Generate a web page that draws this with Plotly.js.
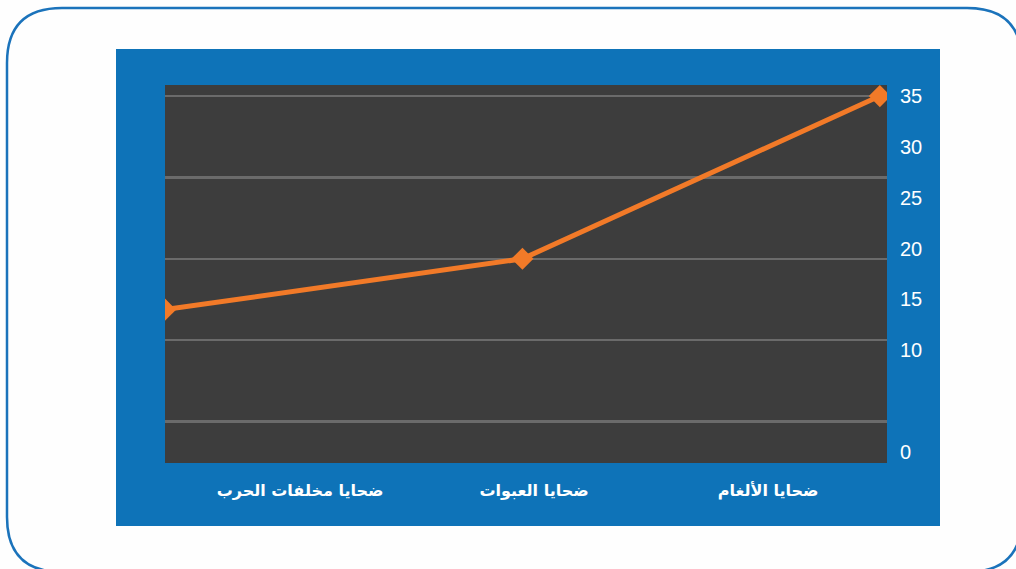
<!DOCTYPE html>
<html>
<head>
<meta charset="utf-8">
<script src="https://cdn.plot.ly/plotly-3.0.1.min.js"></script>
<style>html,body{margin:0;padding:0;background:#fefefe;}#chart{width:1016px;height:569px;}</style>
</head>
<body>
<div id="chart"></div>
<script>
// Data (categories in right-to-left order: first one is drawn on the right)
const categories = ['ضحايا الألغام', 'ضحايا العبوات', 'ضحايا مخلفات الحرب'];
const victims = [35, 19, 14];
const yTickVals = [0, 10, 15, 20, 25, 30, 35];
const yTickText = ['0', '10', '15', '20', '25', '30', '35'];

const W = 1016, H = 569;
const M = {l: 165, r: 129, t: 85, b: 106};
const PW = W - M.l - M.r, PH = H - M.t - M.b;
const px = x => (x - M.l) / PW;
const py = y => (H - M.b - y) / PH;

function roundRect(x0, y0, x1, y1, r) {
  const p = (x, y) => px(x) + ',' + py(y);
  return 'M' + p(x0 + r, y0) + ' L' + p(x1 - r, y0) + ' Q' + p(x1, y0) + ' ' + p(x1, y0 + r) +
    ' L' + p(x1, y1 - r) + ' Q' + p(x1, y1) + ' ' + p(x1 - r, y1) +
    ' L' + p(x0 + r, y1) + ' Q' + p(x0, y1) + ' ' + p(x0, y1 - r) +
    ' L' + p(x0, y0 + r) + ' Q' + p(x0, y0) + ' ' + p(x0 + r, y0) + ' Z';
}

const yRange = [-1.08, 36.09];
const catIndex = categories.map((c, i) => i);

// invisible carrier trace so the label axis (x2) and grid axis (y2) are drawn
const carrier = {
  type: 'scatter', mode: 'lines',
  x: catIndex, y: victims,
  xaxis: 'x2', yaxis: 'y2',
  line: {color: 'rgba(0,0,0,0)', width: 0},
  opacity: 0, hoverinfo: 'skip', showlegend: false
};

const trace = {
  type: 'scatter', mode: 'lines+markers',
  x: categories, y: victims,
  xaxis: 'x', yaxis: 'y',
  line: {color: '#f27a28', width: 5},
  marker: {symbol: 'diamond', size: 17, color: '#f27a28'},
  hoverinfo: 'x+y', showlegend: false
};

const layout = {
  width: W, height: H,
  margin: M,
  paper_bgcolor: '#fefefe',
  plot_bgcolor: 'rgba(0,0,0,0)',
  showlegend: false,
  xaxis: {
    type: 'category', categoryorder: 'array', categoryarray: categories,
    range: [2.0, -0.02], showgrid: false, zeroline: false, showline: false,
    showticklabels: false, ticks: '', fixedrange: true
  },
  xaxis2: {
    overlaying: 'x', anchor: 'y2', side: 'bottom', type: 'linear',
    range: [2.577, -0.508], tickvals: catIndex, ticktext: categories,
    showgrid: false, zeroline: false, showline: false,
    ticks: 'outside', ticklen: 13, tickcolor: 'rgba(0,0,0,0)',
    tickfont: {family: 'DejaVu Sans', size: 16, color: '#ffffff', weight: 'bold'}
  },
  yaxis: {
    side: 'right', range: yRange, tickvals: yTickVals, ticktext: yTickText,
    showgrid: false, zeroline: false, showline: false,
    ticks: 'outside', ticklen: 8, tickcolor: 'rgba(0,0,0,0)',
    tickfont: {family: 'Liberation Sans', size: 20, color: '#ffffff'}
  },
  yaxis2: {
    overlaying: 'y', anchor: 'x2', side: 'left', range: yRange,
    tick0: 3, dtick: 8, showgrid: true, gridcolor: '#6b6b6b', gridwidth: 2.5,
    showticklabels: false, ticks: '', zeroline: false, showline: false
  },
  shapes: [
    {type: 'path', xref: 'paper', yref: 'paper', layer: 'below',
     path: roundRect(7, 8, 1022, 572, 55),
     line: {color: '#1b73bb', width: 2.5}, fillcolor: '#fefefe'},
    {type: 'rect', xref: 'paper', yref: 'paper', layer: 'below',
     x0: px(116), x1: px(940), y0: py(526), y1: py(49),
     line: {width: 0}, fillcolor: '#0e73b8'},
    {type: 'rect', xref: 'paper', yref: 'paper', layer: 'below',
     x0: 0, x1: 1, y0: 0, y1: 1,
     line: {width: 0}, fillcolor: '#3d3d3d'}
  ]
};

Plotly.newPlot('chart', [carrier, trace], layout, {displayModeBar: false, staticPlot: true});
</script>
</body>
</html>
